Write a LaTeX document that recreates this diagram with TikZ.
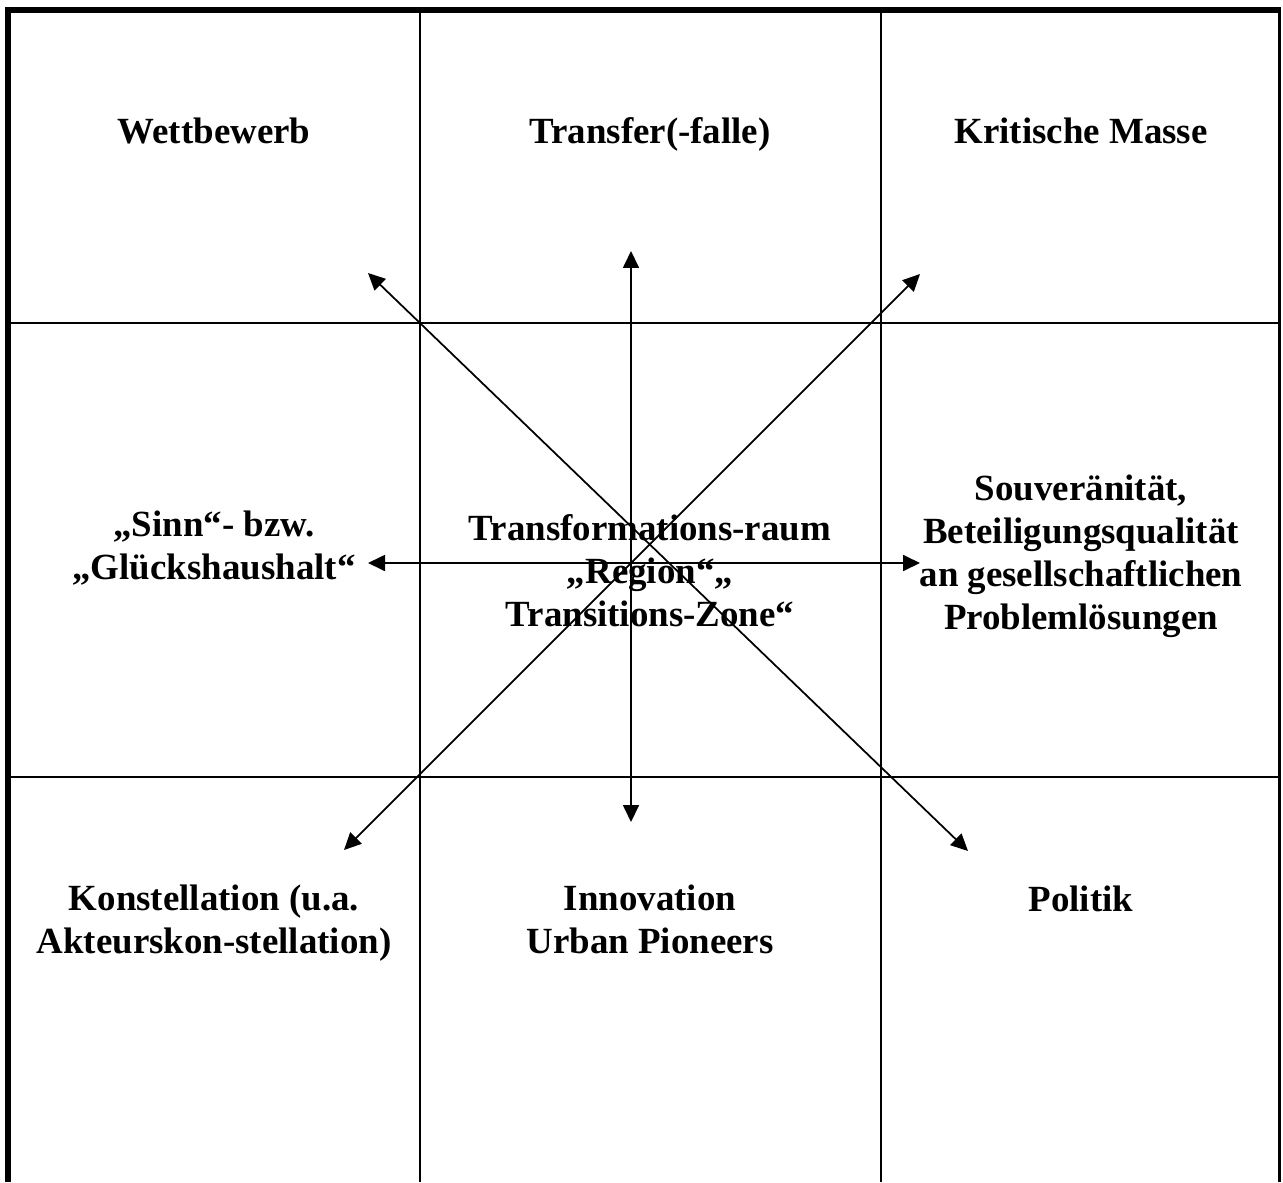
\documentclass[tikz,border=0pt]{standalone}
\usepackage{fontspec}
\setmainfont{Liberation Serif}
\usetikzlibrary{arrows.meta}

\begin{document}
\begin{tikzpicture}[
x=0.02cm, y=-0.02cm,
cellnode/.style={align=center, inner sep=0pt, font=\fontsize{21}{24.5}\selectfont\bfseries},
gridline/.style={line width=0.05cm},
pfeil/.style={line width=0.035cm, {Triangle[length=0.34cm,width=0.32cm]}-{Triangle[length=0.34cm,width=0.32cm]}}
]
    \useasboundingbox (0,0) rectangle (1283,1182);

    % frame and grid
    \draw[line width=0.12cm] (8,1182) -- (8,10) -- (1281,10);
    \draw[line width=0.06cm] (1279.5,10) -- (1279.5,1182);
    \draw[gridline] (420,10) -- (420,1182);
    \draw[gridline] (881,10) -- (881,1182);
    \draw[gridline] (8,323) -- (1279.5,323);
    \draw[gridline] (8,777) -- (1279.5,777);

    \node [cellnode, anchor=base] (wett) at (214,144) {Wettbewerb};
    \node [cellnode, anchor=base] (transfer) at (650,144) {Transfer(-falle)};
    \node [cellnode, anchor=base] (masse) at (1081,144) {Kritische Masse};

    \node [cellnode] (sinn) at (214,548) {„Sinn“- bzw.\\„Glückshaushalt“};
    \node [cellnode] (raum) at (650,571) {Transformations-raum\\„Region“„\\Transitions-Zone“};
    \node [cellnode] (souv) at (1081,556) {Souveränität,\\Beteiligungsqualität\\an gesellschaftlichen\\Problemlösungen};

    \node [cellnode] (konst) at (214,923) {Konstellation (u.a.\\Akteurskon-stellation)};
    \node [cellnode] (innov) at (650,919) {Innovation\\Urban Pioneers};
    \node [cellnode, anchor=base] (politik) at (1081,911) {Politik};

    % arrow ends
    \coordinate (pn) at (631,251);
    \coordinate (ps) at (631,822);
    \coordinate (pw) at (368,563);
    \coordinate (pe) at (920,563);
    \coordinate (pnw) at (368,273);
    \coordinate (pse) at (968,851);
    \coordinate (pne) at (920,274);
    \coordinate (psw) at (344,850);

    \draw [pfeil] (pn) -- (ps);
    \draw [pfeil] (pw) -- (pe);
    \draw [pfeil] (pnw) -- (pse);
    \draw [pfeil] (pne) -- (psw);
\end{tikzpicture}
\end{document}
